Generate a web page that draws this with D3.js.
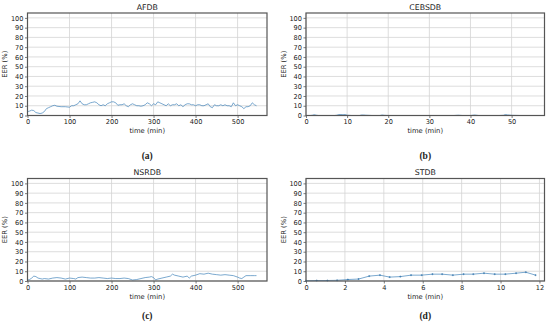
<!DOCTYPE html>
<html><head><meta charset="utf-8">
<script src="https://cdn.jsdelivr.net/npm/d3@7"></script>
<style>body{margin:0;background:#fff}svg{display:block}</style>
</head><body>
<svg id="c" width="550" height="325"></svg>
<script>
// ---- data ----
const afdbTime = [0,5,10,15,20,25,30,35,40,45,50,55,60,65,70,80,90,100,105,110,115,120,125,130,135,140,145,150,155,160,165,170,175,180,185,190,195,200,205,210,215,220,225,230,235,240,245,250,255,260,265,270,275,280,285,290,295,300,305,310,315,320,325,330,335,340,345,350,355,360,365,370,375,380,385,390,395,400,405,410,415,420,425,430,435,440,445,450,455,460,465,470,475,480,485,490,495,500,505,510,515,520,525,530,535,540,545];
const afdbEER = [4,4.5,5.5,5,3,2.5,2,2.5,4,7,8,9,10,10.5,9.5,9,9,8.5,10,10,11,12,15,12,11,11,12,13,13.5,14,13,11,10,11,10,12,13,14,14,13,10.5,11,11,12,10,9,11,12,11,10,10,9.5,10,11,13,12,10,12,11,14,13,12,11,10,12,10,11,11,12,10,11,9,11,12,12,11,11,10,11,11,10,10,11,12,9,8,11,10,10,11,10,11,10,10,9,13,10,11,10,9,7,9,9,10,13,11,10];

const cebsTime = [0,1,1.5,2,2.5,3,4,5,6,7,7.5,8,8.5,9,9.5,10,11,12,13,13.5,14,14.5,15,16,17,18,18.5,19,20,22,24,26,28,30,32,34,36,37,38,40,41,42,44,46,47,48,48.5,49,50,52,54,56];
const cebsEER = [0,0,0.2,0.8,0.3,0,0,0,0,0,0.3,1,1,0.8,1,0.3,0,0,0,0.5,0.5,0.3,0.2,0,0,0,0.5,0.2,0,0,0,0,0,0,0,0,0,0.3,0,0,0.5,0,0,0,0,0.2,1,0.6,0.2,0,0,0];

const nsrTime = [0,5,10,15,20,25,30,35,40,50,60,70,80,90,100,110,115,120,130,140,150,160,170,180,190,200,210,220,230,240,250,260,270,280,290,295,300,305,310,320,330,340,345,350,360,370,380,385,390,400,410,420,430,440,450,460,470,480,490,500,505,510,515,520,530,540,545];
const nsrEER = [1,1.5,3,5,4.5,3,2.5,2,2.5,2,3,3.5,3,2,3,2.5,2,3.5,4,3.5,3,3,3.5,3,2.5,3,2.5,2.5,3,2.5,1,1.5,2.5,3.5,4,4.5,3.5,1,2,3,4,5,7,6,5,4,5,3,5,6,7.5,7,8,7,6.5,6,6.5,6,5.5,4,3,2.5,4,5.5,5.5,5.5,5.5];

const stdbTime = [0,0.55,1.1,1.6,2.15,2.7,3.25,3.8,4.3,4.85,5.4,5.95,6.5,7.0,7.55,8.1,8.6,9.15,9.7,10.25,10.8,11.3,11.8];
const stdbEER = [0.3,0.5,0.5,0.7,1.5,2,5,6,4,4.5,6,6,7,7,6,7,7,8,7,7,8,9,6];

const yTicks = [0,10,20,30,40,50,60,70,80,90,100];
const panels = [
  {title:"AFDB", label:"(a)", t:afdbTime, v:afdbEER, xmax:570, xticks:[0,100,200,300,400,500], marker:false},
  {title:"CEBSDB", label:"(b)", t:cebsTime, v:cebsEER, xmax:58, xticks:[0,10,20,30,40,50], marker:false},
  {title:"NSRDB", label:"(c)", t:nsrTime, v:nsrEER, xmax:570, xticks:[0,100,200,300,400,500], marker:false},
  {title:"STDB", label:"(d)", t:stdbTime, v:stdbEER, xmax:12.26, xticks:[0,2,4,6,8,10,12], marker:true}
];
const boxes = [
  {x0:27.5, x1:267, y0:13, y1:115.5, lab:43},
  {x0:306, x1:544.5, y0:13, y1:115.5, lab:43},
  {x0:27.5, x1:267, y0:178.5, y1:281, lab:37.5},
  {x0:306, x1:544.5, y0:178.5, y1:281, lab:37.5}
];

const svg = d3.select("#c");
const FONT = "DejaVu Sans, sans-serif";
const lineColor = "#3b80b8";

panels.forEach((p,i)=>{
  const b = boxes[i];
  const x = d3.scaleLinear().domain([0,p.xmax]).range([b.x0,b.x1]);
  const y = d3.scaleLinear().domain([0,105]).range([b.y1,b.y0]);
  const g = svg.append("g");
  g.selectAll(".hg").data(yTicks).join("line")
    .attr("x1",b.x0).attr("x2",b.x1).attr("y1",d=>y(d)).attr("y2",d=>y(d))
    .attr("stroke","#d4d4d4").attr("stroke-width",0.8);
  g.selectAll(".vg").data(p.xticks).join("line")
    .attr("x1",d=>x(d)).attr("x2",d=>x(d)).attr("y1",b.y0).attr("y2",b.y1)
    .attr("stroke","#d4d4d4").attr("stroke-width",0.8);
  const ya = d3.axisLeft(y).tickValues(yTicks).tickSize(2.5).tickPadding(1.5);
  const xa = d3.axisBottom(x).tickValues(p.xticks).tickSize(2.5).tickPadding(1.5);
  const gy = g.append("g").attr("transform",`translate(${b.x0},0)`).call(ya);
  const gx = g.append("g").attr("transform",`translate(0,${b.y1})`).call(xa);
  [gy,gx].forEach(a=>{
    a.select(".domain").remove();
    a.selectAll("line").attr("stroke","#444").attr("stroke-width",0.7);
    a.selectAll("text").attr("font-family",FONT).attr("font-size",6.6).attr("fill","#222");
  });
  const line = d3.line().x((d,j)=>x(p.t[j])).y(d=>y(d));
  g.append("path").datum(p.v).attr("d",line).attr("fill","none")
    .attr("stroke",lineColor).attr("stroke-width",0.8).attr("stroke-opacity",0.85);
  if(p.marker){
    g.selectAll(".mk").data(p.v).join("path")
      .attr("d",(d,j)=>`M${x(p.t[j])-1},${y(d)}h2M${x(p.t[j])},${y(d)-1}v2`)
      .attr("stroke","#2a6fa8").attr("stroke-width",0.6);
  }
  g.append("rect").attr("x",b.x0).attr("y",b.y0).attr("width",b.x1-b.x0).attr("height",b.y1-b.y0)
    .attr("fill","none").attr("stroke","#555").attr("stroke-width",1.2);
  const cx = (b.x0+b.x1)/2;
  g.append("text").attr("x",cx).attr("y",b.y0-3.5).attr("text-anchor","middle")
    .attr("font-family",FONT).attr("font-size",7.8).attr("fill","#222").text(p.title);
  g.append("text").attr("x",cx).attr("y",b.y1+17.5).attr("text-anchor","middle")
    .attr("font-family",FONT).attr("font-size",6.8).attr("fill","#222").text("time (min)");
  g.append("text").attr("transform",`translate(${b.x0-20.5},${(b.y0+b.y1)/2}) rotate(-90)`)
    .attr("text-anchor","middle").attr("font-family",FONT).attr("font-size",6.8).attr("fill","#222").text("EER (%)");
  g.append("text").attr("x",cx).attr("y",b.y1+b.lab).attr("text-anchor","middle")
    .attr("font-family","Liberation Serif, serif").attr("font-weight","bold").attr("font-size",9.5).attr("fill","#222").text(p.label);
});
</script>
</body></html>
